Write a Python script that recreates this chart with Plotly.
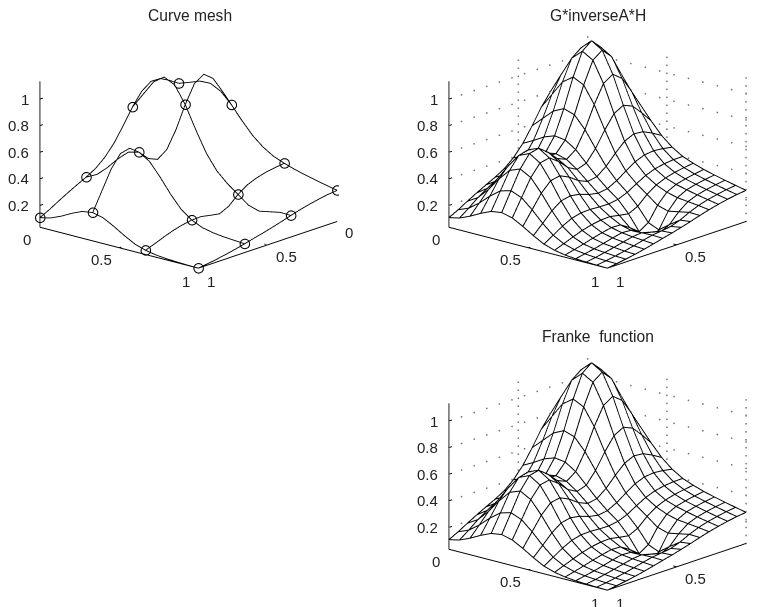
import plotly.graph_objects as go

grid_values = [0, 0.0667, 0.1333, 0.2, 0.2667, 0.3333, 0.4, 0.4667, 0.5333, 0.6, 0.6667, 0.7333, 0.8, 0.8667, 0.9333, 1]
x_ticks = [0, 0.5, 1]
y_ticks = [0, 0.5, 1]
z_ticks = [0.2, 0.4, 0.6, 0.8, 1]
z_floor = 0.036
z_top_axis = 1.134
z_top_range = 1.23
titles = ["Curve mesh", "G*inverseA*H", "Franke\u00a0 function"]
node_index = [0, 5, 10, 15]

# heights: one row per x value, one column per y value
franke_z = [
 [.767,.795,.825,.829,.788,.708,.609,.519,.451,.402,.371,.345,.324,.305,.287,.270],
 [.813,.888,.963,.993,.949,.835,.691,.560,.464,.401,.362,.335,.314,.295,.278,.262],
 [.850,.971,1.089,1.147,1.098,.954,.766,.594,.471,.394,.350,.321,.301,.282,.265,.250],
 [.852,.999,1.146,1.219,1.169,1.008,.795,.601,.463,.379,.331,.303,.283,.265,.250,.235],
 [.801,.948,1.091,1.164,1.117,.962,.756,.569,.435,.353,.302,.268,.247,.238,.229,.218],
 [.706,.821,.936,.993,.954,.827,.657,.502,.389,.314,.254,.193,.169,.185,.201,.198],
 [.589,.664,.740,.779,.753,.662,.541,.427,.340,.272,.189,.086,.052,.112,.166,.176],
 [.480,.522,.569,.598,.587,.535,.454,.373,.303,.243,.155,.042,.007,.078,.142,.156],
 [.397,.421,.459,.494,.507,.485,.430,.360,.292,.232,.167,.095,.067,.102,.132,.137],
 [.337,.365,.415,.472,.512,.515,.468,.390,.306,.233,.181,.139,.119,.121,.123,.120],
 [.296,.336,.408,.495,.566,.586,.537,.440,.331,.238,.178,.142,.124,.114,.108,.102],
 [.261,.312,.402,.514,.607,.639,.587,.473,.343,.235,.166,.127,.108,.098,.090,.085],
 [.224,.279,.374,.490,.588,.623,.572,.459,.328,.217,.147,.109,.090,.081,.074,.070],
 [.185,.233,.314,.414,.499,.530,.486,.389,.277,.182,.122,.089,.073,.066,.060,.057],
 [.144,.177,.236,.308,.368,.390,.358,.288,.206,.137,.094,.070,.059,.052,.048,.046],
 [.108,.126,.160,.202,.237,.249,.229,.186,.137,.094,.068,.053,.045,.041,.038,.036],
]

W, H = 759, 607
FONT = dict(family="Liberation Sans", size=15, color="#222")
TITLE_FONT = dict(family="Liberation Sans", size=15.6, color="#222")
scale_k = 1.8
aspect_scale = 1.515
eye_dir = (0.719, 0.630, 0.295)
WIRE = 1.8
SURF_WIRE = 2
FILL_DROP = 0.006
TICK = 0.022


def columns(rows):
    return [list(c) for c in zip(*rows)]


def scene_layout(name_domain, shift):
    (x0, x1, ytop, ybot) = name_domain
    dx, dy = shift
    ann = []
    for t in z_ticks:
        ann.append(dict(x=1, y=0, z=t, text=str(t), showarrow=False, font=FONT, xanchor="right", xshift=-9))
    for t, s in zip(y_ticks, [(-13, -12), (-18, -12), (-12, -13)]):
        ann.append(dict(x=1, y=t, z=z_floor, text=f"{t:g}", showarrow=False, font=FONT, xshift=s[0], yshift=s[1]))
    for t, s in zip(x_ticks, [(12, -11), (19, -12), (13, -13)]):
        ann.append(dict(x=t, y=1, z=z_floor, text=f"{t:g}", showarrow=False, font=FONT, xshift=s[0], yshift=s[1]))
    common = dict(showbackground=False, showgrid=False, zeroline=False, showspikes=False,
                  showticklabels=False, title=dict(text=""), showline=True, linecolor="black",
                  linewidth=2, ticks="")
    return dict(
        domain=dict(x=[x0 / W, x1 / W], y=[1 - ybot / H, 1 - ytop / H]),
        xaxis=dict(common, range=[0, 1], tickvals=x_ticks),
        yaxis=dict(common, range=[0, 1], tickvals=y_ticks),
        zaxis=dict(common, range=[z_floor, z_top_range], tickvals=z_ticks, showline=False),
        aspectmode="manual", aspectratio=dict(x=aspect_scale, y=aspect_scale, z=0.789 * aspect_scale),
        camera=dict(projection=dict(type="orthographic"),
                    up=dict(x=0, y=0, z=1),
                    center=dict(x=0.659 * dx, y=-0.752 * dx, z=dy),
                    eye=dict(x=eye_dir[0] * scale_k + 0.659 * dx, y=eye_dir[1] * scale_k - 0.752 * dx, z=eye_dir[2] * scale_k + dy)),
        annotations=ann,
    )


def axis_marks_trace(scene):
    # z axis line plus short tick marks on all three axes
    xs, ys, zs = [1, 1, None], [0, 0, None], [z_floor, z_top_axis, None]
    for t in z_ticks:
        xs += [1, 1 - TICK, None]; ys += [0, 0, None]; zs += [t, t, None]
    xs += [1, 1 - TICK, None]; ys += [y_ticks[1], y_ticks[1], None]; zs += [z_floor, z_floor, None]
    xs += [x_ticks[1], x_ticks[1], None]; ys += [1, 1 - TICK, None]; zs += [z_floor, z_floor, None]
    return go.Scatter3d(x=xs, y=ys, z=zs, mode="lines", line=dict(color="black", width=WIRE),
                        scene=scene, showlegend=False, hoverinfo="skip")


def grid_trace(scene):
    # dotted grid on the two back walls: a dot every 1/11 along the level lines, every 0.06 up the verticals
    xs, ys, zs = [], [], []
    for t in z_ticks:
        for k in range(12):
            s = k / 11
            xs += [1 - s, 0]; ys += [0, s]; zs += [t, t]
    n_up = int((z_top_axis - z_floor) / 0.06) + 1
    for k in range(n_up):
        zv = z_floor + k * 0.06
        for xv in x_ticks[:2]:
            xs.append(xv); ys.append(0); zs.append(zv)
        for yv in y_ticks[1:]:
            xs.append(0); ys.append(yv); zs.append(zv)
    return go.Scatter3d(x=xs, y=ys, z=zs, mode="markers",
                        marker=dict(symbol="circle", size=1, color="#777"),
                        scene=scene, showlegend=False, hoverinfo="skip")


def surface_fill(rows, scene):
    # white hidden-line fill sitting just under the wires
    fill = [[v - FILL_DROP for v in c] for c in columns(rows)]
    return go.Surface(x=grid_values, y=grid_values, z=fill, scene=scene, showscale=False,
                      colorscale=[[0, "white"], [1, "white"]],
                      lighting=dict(ambient=1, diffuse=0, specular=0, roughness=1, fresnel=0),
                      hoverinfo="skip")


def wire_trace(rows, scene):
    xs, ys, zs = [], [], []
    for i, row in enumerate(rows):
        xs += [grid_values[i]] * 16 + [None]; ys += grid_values + [None]; zs += list(row) + [None]
    for j in range(16):
        xs += grid_values + [None]; ys += [grid_values[j]] * 16 + [None]; zs += [r[j] for r in rows] + [None]
    return go.Scatter3d(x=xs, y=ys, z=zs, mode="lines", line=dict(color="black", width=SURF_WIRE),
                        scene=scene, showlegend=False, hoverinfo="skip")


fig = go.Figure()
# curve mesh: four curves in each direction plus node markers
for i in node_index:
    fig.add_trace(go.Scatter3d(x=[grid_values[i]] * 16, y=grid_values, z=franke_z[i], mode="lines",
                               line=dict(color="black", width=WIRE), scene="scene", showlegend=False, hoverinfo="skip"))
for j in node_index:
    fig.add_trace(go.Scatter3d(x=grid_values, y=[grid_values[j]] * 16, z=[r[j] for r in franke_z], mode="lines",
                               line=dict(color="black", width=WIRE), scene="scene", showlegend=False, hoverinfo="skip"))
fig.add_trace(go.Scatter3d(x=[grid_values[i] for i in node_index for j in node_index],
                           y=[grid_values[j] for i in node_index for j in node_index],
                           z=[franke_z[i][j] for i in node_index for j in node_index],
                           mode="markers", marker=dict(symbol="circle-open", size=6, color="black"),
                           scene="scene", showlegend=False, hoverinfo="skip"))
fig.add_trace(axis_marks_trace("scene"))
for sc in ("scene2", "scene3"):
    fig.add_trace(grid_trace(sc))
    fig.add_trace(surface_fill(franke_z, sc))
    fig.add_trace(wire_trace(franke_z, sc))
    fig.add_trace(axis_marks_trace(sc))

fig.update_layout(
    width=W, height=H, margin=dict(l=0, r=0, t=0, b=0), paper_bgcolor="white",
    scene=scene_layout((0, 331, 7, 285), (0.108, -0.068)),
    scene2=scene_layout((435, 759, 7, 285), (-0.054, -0.068)),
    scene3=scene_layout((435, 759, 329, 607), (-0.054, -0.068)),
    annotations=[
        dict(x=182 / W, y=1 - 8 / H, xref="paper", yref="paper", xanchor="center", yanchor="middle", text=titles[0], showarrow=False, font=TITLE_FONT),
        dict(x=590 / W, y=1 - 7 / H, xref="paper", yref="paper", xanchor="center", yanchor="middle", text=titles[1], showarrow=False, font=TITLE_FONT),
        dict(x=590 / W, y=1 - 329 / H, xref="paper", yref="paper", xanchor="center", yanchor="middle", text=titles[2], showarrow=False, font=TITLE_FONT),
    ],
)
fig.write_html("out.html")
